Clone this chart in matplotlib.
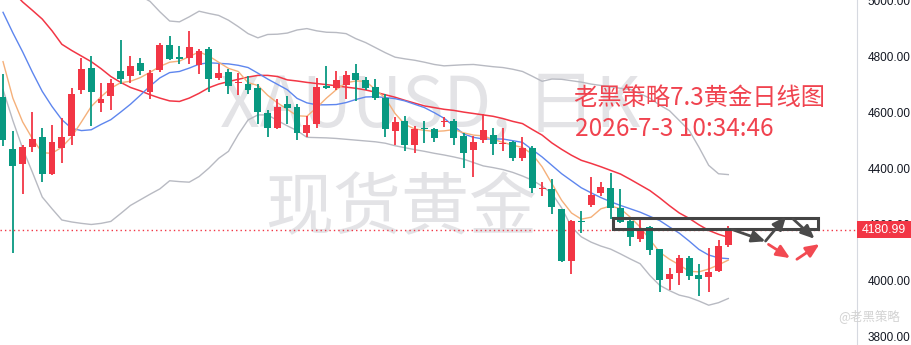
import matplotlib
matplotlib.use('Agg')
import matplotlib.pyplot as plt
import matplotlib.transforms as mtransforms
from matplotlib.patches import Rectangle
import numpy as np

# daily candles (oldest -> newest)
opens = [4654, 4469, 4414, 4474, 4512, 4378, 4471, 4513, 4679, 4757,
         4634, 4659, 4747, 4730, 4775, 4670, 4750, 4839, 4797, 4794,
         4767, 4825, 4723, 4743, 4703, 4701, 4686, 4597, 4545, 4628,
         4619, 4524, 4559, 4693, 4687, 4697, 4740, 4715, 4690, 4650,
         4531, 4569, 4481, 4544, 4541, 4563, 4569, 4513, 4463, 4499,
         4519, 4485, 4492, 4435, 4473, 4324, 4327, 4253, 4069, 4212,
         4269, 4311, 4330, 4258, 4210, 4146, 4190, 4111, 4006, 4026,
         4079, 4018, 4012, 4033, 4125]
highs = [4737, 4533, 4484, 4601, 4544, 4555, 4578, 4685, 4793, 4800,
         4704, 4717, 4857, 4800, 4793, 4749, 4846, 4871, 4836, 4889,
         4824, 4832, 4770, 4753, 4740, 4728, 4699, 4608, 4646, 4658,
         4628, 4586, 4721, 4766, 4747, 4747, 4772, 4725, 4718, 4664,
         4583, 4587, 4551, 4569, 4545, 4581, 4577, 4526, 4516, 4593,
         4543, 4542, 4498, 4512, 4479, 4352, 4360, 4256, 4216, 4247,
         4367, 4352, 4382, 4326, 4219, 4219, 4194, 4113, 4042, 4091,
         4085, 4059, 4115, 4142, 4192]
lows = [4478, 4097, 4307, 4456, 4350, 4376, 4417, 4481, 4663, 4552,
        4602, 4606, 4699, 4705, 4731, 4645, 4743, 4787, 4773, 4770,
        4737, 4672, 4715, 4664, 4660, 4666, 4556, 4510, 4538, 4557,
        4500, 4512, 4545, 4683, 4679, 4647, 4640, 4678, 4644, 4510,
        4481, 4462, 4453, 4488, 4492, 4548, 4481, 4399, 4367, 4488,
        4446, 4462, 4424, 4424, 4311, 4302, 4237, 4065, 4021, 4168,
        4263, 4302, 4219, 4204, 4121, 4136, 4089, 3959, 3965, 3982,
        4000, 3943, 3959, 4031, 4119]
closes = [4500, 4407, 4474, 4505, 4378, 4494, 4510, 4665, 4754, 4673,
          4647, 4704, 4719, 4765, 4748, 4740, 4839, 4791, 4791, 4832,
          4818, 4719, 4740, 4692, 4708, 4680, 4600, 4542, 4619, 4616,
          4524, 4555, 4690, 4687, 4715, 4733, 4716, 4687, 4652, 4538,
          4565, 4481, 4541, 4541, 4507, 4567, 4506, 4455, 4494, 4537,
          4485, 4488, 4435, 4473, 4328, 4328, 4261, 4069, 4210, 4207,
          4305, 4332, 4258, 4207, 4154, 4183, 4109, 4002, 4024, 4079,
          4015, 4006, 4029, 4121, 4180.99]

# moving averages and bollinger bands, read at each candle
ma_fast = [4780, 4650, 4565, 4505, 4455, 4453, 4475, 4512, 4565, 4620,
           4655, 4685, 4705, 4710, 4723, 4742, 4763, 4778, 4782, 4798,
           4815, 4800, 4778, 4756, 4745, 4705, 4695, 4660, 4633, 4610,
           4587, 4585, 4616, 4650, 4680, 4705, 4711, 4710, 4680, 4650,
           4595, 4556, 4540, 4535, 4531, 4533, 4538, 4526, 4518, 4515,
           4503, 4492, 4482, 4474, 4450, 4405, 4345, 4285, 4240, 4218,
           4225, 4255, 4265, 4255, 4225, 4190, 4145, 4100, 4075, 4055,
           4032, 4030, 4040, 4055, 4072]
ma_mid = [4956, 4883, 4815, 4742, 4674, 4620, 4573, 4542, 4534, 4537,
          4556, 4573, 4600, 4628, 4660, 4693, 4722, 4741, 4745, 4757,
          4771, 4776, 4774, 4772, 4767, 4759, 4739, 4718, 4699, 4680,
          4649, 4633, 4626, 4626, 4627, 4634, 4645, 4654, 4655, 4652,
          4648, 4640, 4628, 4616, 4598, 4578, 4550, 4522, 4510, 4504,
          4504, 4504, 4498, 4492, 4466, 4440, 4410, 4380, 4355, 4330,
          4312, 4295, 4280, 4267, 4255, 4243, 4228, 4213, 4190, 4168,
          4140, 4110, 4090, 4080, 4077]
ma_slow = [5067, 5030, 4993, 4963, 4932, 4890, 4842, 4820, 4800, 4780,
           4755, 4727, 4706, 4688, 4676, 4662, 4650, 4640, 4638, 4650,
           4667, 4687, 4700, 4709, 4717, 4725, 4731, 4731, 4727, 4715,
           4711, 4706, 4702, 4698, 4694, 4689, 4685, 4679, 4671, 4662,
           4653, 4642, 4632, 4622, 4616, 4610, 4606, 4600, 4595, 4590,
           4585, 4577, 4567, 4559, 4538, 4518, 4490, 4467, 4446, 4428,
           4417, 4405, 4392, 4379, 4360, 4340, 4320, 4294, 4266, 4240,
           4221, 4198, 4178, 4164, 4153]
bb_upper = [5080, 5085, 5090, 5095, 5095, 5095, 5090, 5090, 5085, 5080,
            5075, 5065, 5050, 5035, 5015, 4995, 4958, 4925, 4922, 4940,
            4960, 4952, 4945, 4928, 4905, 4880, 4865, 4877, 4878, 4882,
            4893, 4898, 4890, 4885, 4884, 4880, 4862, 4848, 4830, 4812,
            4796, 4790, 4785, 4778, 4770, 4765, 4767, 4769, 4770, 4766,
            4762, 4759, 4753, 4745, 4728, 4710, 4718, 4717, 4712, 4707,
            4700, 4695, 4690, 4685, 4681, 4665, 4650, 4625, 4605, 4570,
            4535, 4475, 4410, 4380, 4377]
bb_lower = [4680, 4570, 4470, 4385, 4297, 4255, 4215, 4208, 4203, 4199,
            4203, 4210, 4238, 4267, 4287, 4307, 4326, 4355, 4352, 4350,
            4370, 4400, 4435, 4460, 4520, 4572, 4590, 4590, 4570, 4551,
            4534, 4510, 4509, 4508, 4506, 4503, 4500, 4497, 4494, 4489,
            4480, 4473, 4466, 4460, 4453, 4447, 4440, 4432, 4420, 4408,
            4402, 4395, 4385, 4372, 4357, 4336, 4310, 4258, 4190, 4155,
            4136, 4122, 4111, 4094, 4076, 4059, 4017, 3982, 3963, 3947,
            3939, 3926, 3911, 3920, 3935]

price_ticks = [3800, 4000, 4200, 4400, 4600, 4800, 5000]
last_price = 4180.99

# hand-drawn annotations (candle index, price)
zone_box = [62.2, 83.2, 4184, 4221]
grey_arrows = [((74.4, 4181), (77.8, 4139)),
               ((77.8, 4140), (79.9, 4228)),
               ((80.6, 4219), (82.8, 4148))]
red_arrows = [((78.1, 4128), (80.3, 4079)),
              ((81.0, 4075), (83.3, 4129))]

title_line1 = '老黑策略7.3黄金日线图'
title_line2 = '2026-7-3 10:34:46'

UP = '#F23645'
DOWN = '#089981'
CJK = ['Noto Sans CJK SC', 'DejaVu Sans']

fig = plt.figure(figsize=(9.12, 3.45), dpi=100)
ax = fig.add_axes([0, 0, 856.7 / 912, 1])
ax.set_xlim(-0.31, 87.1)
ax.set_ylim(3769, 4995.6)

# watermark
ax.text(220 / 856.7, 1 - 107 / 345, 'XAUUSD, 日K', transform=ax.transAxes,
        fontsize=50, color='#E3E3E6', family=CJK, va='center', ha='left', zorder=0)
ax.text(265 / 856.7, 1 - 210 / 345, '现货黄金', transform=ax.transAxes,
        fontsize=49, color='#E3E3E6', family=CJK, va='center', ha='left', zorder=0)

x = np.arange(len(closes))
ax.plot(x, bb_upper, color='#B8BAC2', lw=1, zorder=2)
ax.plot(x, bb_lower, color='#B8BAC2', lw=1, zorder=2)
ax.plot(x, ma_slow, color='#F23645', lw=1.1, zorder=2)
ax.plot(x, ma_mid, color='#5E86EE', lw=1, zorder=2)
ax.plot(x, ma_fast, color='#F5B07A', lw=1, zorder=2)

o = np.array(opens, dtype=float)
c = np.array(closes, dtype=float)
colors = [UP if cc >= oo else DOWN for oo, cc in zip(o, c)]
bottom = np.minimum(o, c)
height = np.maximum(np.abs(c - o), 3.5)
ax.vlines(x, lows, highs, colors=colors, lw=1.3, zorder=3)
ax.bar(x, height, bottom=bottom, width=0.7, color=colors, zorder=4)

# last price line
ax.axhline(last_price, color=UP, lw=1, linestyle=(0, (1, 2.2)), zorder=3)

# drawn zone and arrows
ax.add_patch(Rectangle((zone_box[0], zone_box[2]), zone_box[1] - zone_box[0],
                       zone_box[3] - zone_box[2], fill=False, ec='#444444',
                       lw=2.2, zorder=5))
for start, end in grey_arrows:
    ax.annotate('', xy=end, xytext=start,
                arrowprops=dict(arrowstyle='-|>,head_length=0.8,head_width=0.35',
                                color='#4A4A4A', lw=2, shrinkA=0, shrinkB=0), zorder=6)
for start, end in red_arrows:
    ax.annotate('', xy=end, xytext=start,
                arrowprops=dict(arrowstyle='-|>,head_length=0.8,head_width=0.35',
                                color='#F24A52', lw=2, shrinkA=0, shrinkB=0), zorder=6)

# red caption
ax.text(573 / 856.7, 1 - 98 / 345, title_line1, transform=ax.transAxes,
        fontsize=17.5, color='#F0434F', family=CJK, va='center', ha='left', zorder=7)
ax.text(575 / 856.7, 1 - 129 / 345, title_line2, transform=ax.transAxes,
        fontsize=17.5, color='#F0434F', family=CJK, va='center', ha='left', zorder=7)

# bottom-right signature
ax.text(838 / 856.7, 1 - 316 / 345, '@老黑策略', transform=ax.transAxes,
        fontsize=9, color='#D2D2D2', family=CJK, va='center', ha='left',
        clip_on=False, zorder=7)

# right price axis
ax.yaxis.tick_right()
ax.set_yticks(price_ticks)
ax.set_yticklabels([f'{p:.2f}' for p in price_ticks])
ax.tick_params(axis='y', length=0, pad=8, labelsize=8.5, labelcolor='#131722')
for lab in ax.get_yticklabels():
    lab.set_family('Liberation Sans')
ax.set_xticks([])
for side in ['top', 'left', 'bottom']:
    ax.spines[side].set_visible(False)
ax.spines['right'].set_color('#D6D9E0')

trans = mtransforms.blended_transform_factory(ax.transAxes, ax.transData)
ax.add_patch(Rectangle((1.0, last_price - 31), 55.3 / 856.7, 62, transform=trans,
                       fc=UP, ec='none', clip_on=False, zorder=8))
ax.text(1.0 + 27.6 / 856.7, last_price, f'{last_price:.2f}', transform=trans,
        ha='center', va='center', color='white', fontsize=8.8,
        family='Liberation Sans', clip_on=False, zorder=9)

fig.savefig('out.png', dpi=100)
